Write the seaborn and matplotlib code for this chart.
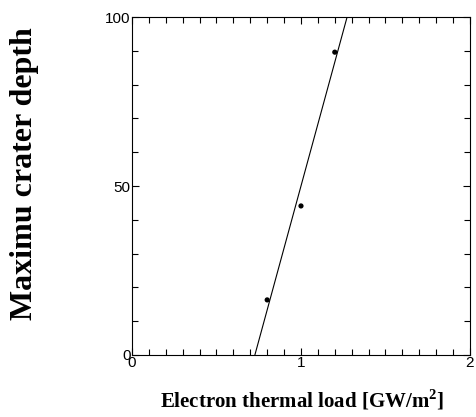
import matplotlib
matplotlib.use("Agg")
import matplotlib.pyplot as plt
from matplotlib.ticker import MultipleLocator
import seaborn as sns
import pandas as pd

thermal_load = [0.80, 1.00, 1.20]
crater_depth = [16.3, 44.1, 89.6]

x_ticks = [0, 1, 2]
y_ticks = [0, 50, 100]

df = pd.DataFrame({'load': thermal_load, 'depth': crater_depth})

sns.set_style("ticks")
plt.rcParams['font.family'] = ['Liberation Sans', 'DejaVu Sans']

fig = plt.figure(figsize=(4.77, 4.17), dpi=100)
ax = fig.add_axes([0.2767, 0.1487, 0.7086, 0.8105])

ax.set_xlim(0, 2)
ax.set_ylim(0, 100)

# linear fit extended across the whole axis
sns.regplot(data=df, x='load', y='depth', ax=ax, scatter=False, ci=None,
            truncate=False, line_kws={'color': 'black', 'lw': 0.8})
sns.scatterplot(data=df, x='load', y='depth', ax=ax, color='black',
                s=14, edgecolor='none', zorder=3)

ax.set_xlim(0, 2)
ax.set_ylim(0, 100)
ax.set_xticks(x_ticks)
ax.set_yticks(y_ticks)
ax.xaxis.set_minor_locator(MultipleLocator(0.1))
ax.yaxis.set_minor_locator(MultipleLocator(10))
ax.tick_params(which='both', direction='in', top=True, right=True,
               color='black', width=0.8, labelcolor='black')
ax.tick_params(which='major', length=5, labelsize=11, pad=1)
ax.tick_params(which='minor', length=4)
for s in ax.spines.values():
    s.set_linewidth(0.8)
    s.set_color('black')

ax.set_xlabel('Electron thermal load [GW/m$^\\mathregular{2}$]',
              family='Liberation Serif', fontweight='bold', fontsize=15,
              color='black')
ax.xaxis.set_label_coords(0.502, -0.097)
ax.set_ylabel('Maximu crater depth', family='Liberation Serif',
              fontweight='bold', fontsize=23, color='black')
ax.yaxis.set_label_coords(-0.275, 0.5355)

fig.savefig('out.png', dpi=100)
